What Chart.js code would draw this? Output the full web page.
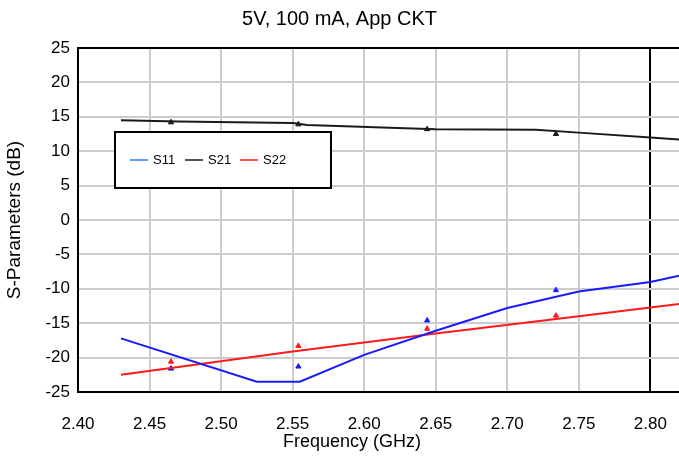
<!DOCTYPE html>
<html>
<head>
<meta charset="utf-8">
<script src="https://cdn.jsdelivr.net/npm/chart.js@4.4.1/dist/chart.umd.min.js"></script>
<style>
  html, body { margin: 0; padding: 0; background: #fff; }
  #wrap { width: 679px; height: 456px; }
</style>
</head>
<body>
<div id="wrap"><canvas id="myChart" width="679" height="456"></canvas></div>
<script>
// simulated curves (frequency GHz / dB)
const s11Freq = [2.43, 2.525, 2.555, 2.60, 2.65, 2.70, 2.75, 2.80, 2.82]
const s11Val = [-17.2, -23.5, -23.5, -19.6, -16.1, -12.8, -10.4, -9.0, -8.1]
const s21Freq = [2.43, 2.47, 2.55, 2.56, 2.65, 2.72, 2.75, 2.80, 2.82]
const s21Val = [14.5, 14.3, 14.1, 13.8, 13.2, 13.1, 12.7, 12.0, 11.7]
const s22Freq = [2.43, 2.55, 2.65, 2.75, 2.82]
const s22Val = [-22.5, -19.1, -16.5, -14.0, -12.2]

// measured points (triangles)
const measFreq = [2.465, 2.554, 2.644, 2.734]
const s11Meas = [-21.6, -21.3, -14.6, -10.2]
const s21Meas = [14.2, 13.9, 13.2, 12.5]
const s22Meas = [-20.6, -18.3, -15.8, -13.9]

const seriesNames = ['S11', 'S21', 'S22']
const seriesColors = ['#1a1aff', '#1a1a1a', '#ff1a1a']
const legendColors = ['#2b7bff', '#1a1a1a', '#ff1a1a']

const xTicks = [2.40, 2.45, 2.50, 2.55, 2.60, 2.65, 2.70, 2.75, 2.80]

function pts(xs, ys) {
  return xs.map((x, i) => ({ x: x, y: ys[i] }))
}

function lineSet(label, xs, ys, color) {
  return {
    label: label,
    data: pts(xs, ys),
    borderColor: color,
    backgroundColor: color,
    borderWidth: 2,
    pointRadius: 0,
    tension: 0
  }
}

function markSet(label, xs, ys, color) {
  return {
    label: label,
    data: pts(xs, ys),
    showLine: false,
    pointStyle: 'triangle',
    pointRadius: 3,
    borderWidth: 1,
    borderColor: color,
    backgroundColor: color
  }
}

const FONT = 'Liberation Sans, Arial, sans-serif'

// legend box + x axis title drawn on top
const overlay = {
  id: 'overlay',
  afterDraw(chart) {
    const ctx = chart.ctx
    ctx.save()
    // legend
    ctx.fillStyle = '#fff'
    ctx.fillRect(115, 132, 216, 56)
    ctx.strokeStyle = '#000'
    ctx.lineWidth = 2
    ctx.strokeRect(115, 132, 216, 56)
    ctx.font = '13px ' + FONT
    ctx.textBaseline = 'middle'
    let x = 130
    for (let i = 0; i < seriesNames.length; i++) {
      ctx.strokeStyle = legendColors[i]
      ctx.lineWidth = 1.5
      ctx.beginPath()
      ctx.moveTo(x, 160)
      ctx.lineTo(x + 18, 160)
      ctx.stroke()
      ctx.fillStyle = '#000'
      ctx.fillText(seriesNames[i], x + 23, 160.5)
      x += 55
    }
    // x title
    ctx.font = '18px ' + FONT
    ctx.textAlign = 'center'
    ctx.fillStyle = '#000'
    ctx.fillText('Frequency (GHz)', 352, 442)
    ctx.restore()
  }
}

const ctx = document.getElementById('myChart')
const data = {
  datasets: [
    lineSet('S11', s11Freq, s11Val, seriesColors[0]),
    lineSet('S21', s21Freq, s21Val, seriesColors[1]),
    lineSet('S22', s22Freq, s22Val, seriesColors[2]),
    markSet('S11 meas', measFreq, s11Meas, seriesColors[0]),
    markSet('S21 meas', measFreq, s21Meas, seriesColors[1]),
    markSet('S22 meas', measFreq, s22Meas, seriesColors[2])
  ]
}

const config = {
  type: 'line',
  data: data,
  plugins: [overlay],
  options: {
    responsive: false,
    animation: false,
    devicePixelRatio: 1,
    layout: { padding: 0, autoPadding: false },
    plugins: {
      legend: { display: false },
      tooltip: { enabled: false },
      title: {
        display: true,
        text: '5V, 100 mA, App CKT',
        color: '#000',
        font: { family: FONT, size: 20, weight: 'normal' },
        padding: { top: 7, bottom: 17 }
      }
    },
    scales: {
      x: {
        type: 'linear',
        min: 2.40,
        max: 2.82,
        afterBuildTicks: (scale) => {
          scale.ticks = xTicks.map((v) => ({ value: v }))
        },
        afterFit: (scale) => {
          scale.height = 64
          scale.paddingLeft = 0
          scale.paddingRight = 0
        },
        border: { color: '#000', width: 2 },
        grid: {
          drawTicks: false,
          lineWidth: 2,
          color: (c) => (c.tick && Math.abs(c.tick.value - 2.8) < 1e-6 ? '#000' : '#cccccc')
        },
        ticks: {
          padding: 22,
          color: '#000',
          font: { family: FONT, size: 17 },
          maxRotation: 0,
          callback: (v) => Number(v).toFixed(2)
        }
      },
      y: {
        min: -25,
        max: 25,
        afterFit: (scale) => {
          scale.width = 78
          scale.paddingTop = 0
          scale.paddingBottom = 0
        },
        border: { color: '#000', width: 2 },
        grid: {
          drawTicks: false,
          lineWidth: 2,
          color: (c) => (c.tick && c.tick.value === 25 ? '#000' : '#cccccc')
        },
        ticks: {
          stepSize: 5,
          padding: 8,
          color: '#000',
          font: { family: FONT, size: 17 }
        },
        title: {
          display: true,
          text: 'S-Parameters (dB)',
          color: '#000',
          font: { family: FONT, size: 19 },
          padding: { top: 3, bottom: 0 }
        }
      }
    }
  }
}
const myChart = new Chart(ctx, config)
</script>
</body>
</html>
